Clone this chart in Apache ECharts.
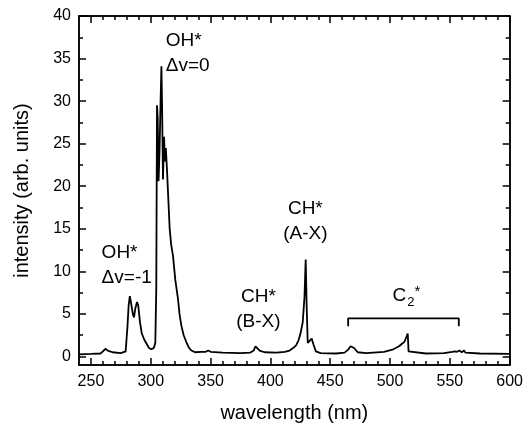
<!DOCTYPE html>
<html>
<head>
<meta charset="utf-8">
<script src="https://cdn.jsdelivr.net/npm/echarts@6/dist/echarts.min.js"></script>
<style>
  html, body { margin: 0; padding: 0; background: #fff; }
  #chart { width: 526px; height: 428px; }
</style>
</head>
<body>
<div id="chart"></div>
<script>
// spectrum
const wavelength = [240, 250, 258, 260, 262, 264, 268, 275, 279, 280.5, 281.5, 282.5, 283.5, 285, 286, 287, 288.5, 289.5, 291, 292.5, 294.5, 296.5, 298.5, 300.5, 302.5, 303.8, 304.6, 305.2, 305.8, 306.5, 307.3, 308.2, 308.9, 309.5, 310.2, 311.1, 311.8, 312.6, 313.6, 314.5, 315.8, 317, 318.6, 320.5, 322.8, 324, 325.6, 327.5, 329.7, 332, 334, 337, 342, 342.8, 343.5, 346, 348, 350, 360, 375, 383, 386, 387.5, 389, 391, 395, 405, 412, 416, 419, 421.5, 423.5, 425, 427, 428.5, 429.5, 430.3, 431.2, 432.5, 434.5, 436, 438, 442, 455, 462, 465, 467, 468.5, 470, 471.5, 473, 480, 495, 502, 507.5, 510, 511, 512, 513.5, 514.8, 515.5, 517, 530, 545, 552, 554, 556, 558, 560, 562, 563, 575, 600];
const intensity = [0.25, 0.3, 0.35, 0.6, 0.9, 0.7, 0.5, 0.4, 0.6, 3.5, 6.0, 7.1, 6.3, 5.0, 4.6, 5.6, 6.4, 6.0, 4.0, 2.7, 2.0, 1.5, 1.0, 0.85, 1.0, 1.6, 8, 29.5, 28, 20.6, 24, 30, 34.1, 29, 20.8, 25.8, 22.9, 24.5, 21.8, 19, 15.0, 13.2, 11.8, 9, 6.7, 5, 3.6, 2.5, 1.7, 1.0, 0.7, 0.5, 0.55, 0.75, 0.5, 0.55, 0.7, 0.55, 0.45, 0.4, 0.45, 0.7, 1.2, 1.0, 0.7, 0.5, 0.45, 0.55, 0.7, 1.0, 1.3, 1.9, 2.6, 4, 7, 11.4, 6, 1.6, 1.5, 2.1, 1.4, 0.6, 0.4, 0.35, 0.45, 0.8, 1.2, 1.05, 1.0, 0.9, 0.5, 0.4, 0.55, 0.8, 1.2, 1.5, 1.4, 1.7, 1.5, 2.7, 0.6, 0.4, 0.35, 0.4, 0.55, 0.6, 0.55, 0.7, 0.5, 0.7, 0.45, 0.35, 0.3];

const xTicks = [250, 300, 350, 400, 450, 500, 550, 600];
const xMinorTicks = [260, 270, 280, 290, 310, 320, 330, 340, 360, 370, 380, 390, 410, 420, 430, 440, 460, 470, 480, 490, 510, 520, 530, 540, 560, 570, 580, 590];
const yTicks = [0, 5, 10, 15, 20, 25, 30, 35, 40];
const yMinorTicks = [2.5, 7.5, 12.5, 17.5, 22.5, 27.5, 32.5, 37.5];

// band labels: [x, y, text, align]
const bandLabels = [
  [312.5, 35.6, 'OH*\n\u0394v=0', 'left'],
  [258.9, 10.7, 'OH*\n\u0394v=-1', 'left'],
  [390, 5.6, 'CH*\n(B-X)', 'center'],
  [429.2, 15.9, 'CH*\n(A-X)', 'center']
];
const c2Label = [513.7, 7.1];
// C2* bracket
const bracketX = [465, 465, 557.5, 557.5];
const bracketY = [3.55, 4.48, 4.48, 3.55];

const font = 'Liberation Sans, Arial, sans-serif';
const lineStyle = { color: '#000', width: 1.5 };

function xAxis(pos, ticks, len, showLabels) {
  return {
    type: 'value', position: pos, min: 240, max: 600,
    axisLine: { show: true, onZero: false, lineStyle: lineStyle },
    splitLine: { show: false },
    axisTick: { show: true, inside: true, length: len, lineStyle: lineStyle, customValues: ticks },
    axisLabel: showLabels
      ? { show: true, customValues: ticks, color: '#000', fontSize: 16, fontFamily: font, margin: 9 }
      : { show: false }
  };
}
function yAxis(pos, ticks, len, showLabels) {
  return {
    type: 'value', position: pos, min: -1, max: 40,
    axisLine: { show: true, onZero: false, lineStyle: lineStyle },
    splitLine: { show: false },
    axisTick: { show: true, inside: true, length: len, lineStyle: lineStyle, customValues: ticks },
    axisLabel: showLabels
      ? { show: true, customValues: ticks, color: '#000', fontSize: 16, fontFamily: font, margin: 8 }
      : { show: false }
  };
}

const xAxes = [
  xAxis('bottom', xTicks, 7, true),
  xAxis('bottom', xMinorTicks, 4, false),
  xAxis('top', xTicks, 7, false),
  xAxis('top', xMinorTicks, 4, false)
];
xAxes[0].name = 'wavelength (nm)';
xAxes[0].nameLocation = 'middle';
xAxes[0].nameGap = 38;
xAxes[0].nameTextStyle = { color: '#000', fontSize: 20, fontFamily: font };

const yAxes = [
  yAxis('left', yTicks, 7, true),
  yAxis('left', yMinorTicks, 4, false),
  yAxis('right', yTicks, 7, false),
  yAxis('right', yMinorTicks, 4, false)
];
yAxes[0].name = 'intensity (arb. units)';
yAxes[0].nameLocation = 'middle';
yAxes[0].nameGap = 47;
yAxes[0].nameTextStyle = { color: '#000', fontSize: 20, fontFamily: font };

const markData = bandLabels.map(function (d) {
  return {
    coord: [d[0], d[1]],
    value: d[2],
    label: { formatter: d[2], align: d[3] }
  };
});
markData.push({
  coord: c2Label,
  value: 'C2*',
  label: {
    formatter: '{c|C}{s|2}{p|*}',
    align: 'center',
    rich: {
      c: { fontSize: 19, fontFamily: font, color: '#000' },
      s: { fontSize: 13, fontFamily: font, color: '#000', padding: [12, 0, 0, 1] },
      p: { fontSize: 15, fontFamily: font, color: '#000', padding: [0, 0, 8, 0] }
    }
  }
});

const option = {
  animation: false,
  backgroundColor: '#fff',
  grid: { left: 79, right: 15, top: 16, bottom: 61, containLabel: false },
  xAxis: xAxes,
  yAxis: yAxes,
  series: [
    {
      type: 'line',
      data: wavelength.map(function (w, i) { return [w, intensity[i]]; }),
      showSymbol: false,
      lineStyle: { color: '#000', width: 1.8 },
      markPoint: {
        symbol: 'circle',
        symbolSize: 0,
        silent: true,
        label: {
          show: true,
          position: 'inside',
          color: '#000',
          fontSize: 19,
          fontFamily: font,
          lineHeight: 25,
          verticalAlign: 'middle'
        },
        data: markData
      }
    },
    {
      type: 'line',
      data: bracketX.map(function (x, i) { return [x, bracketY[i]]; }),
      showSymbol: false,
      lineStyle: { color: '#000', width: 1.8 }
    }
  ]
};

const chart = echarts.init(document.getElementById('chart'));
chart.setOption(option);
</script>
</body>
</html>
